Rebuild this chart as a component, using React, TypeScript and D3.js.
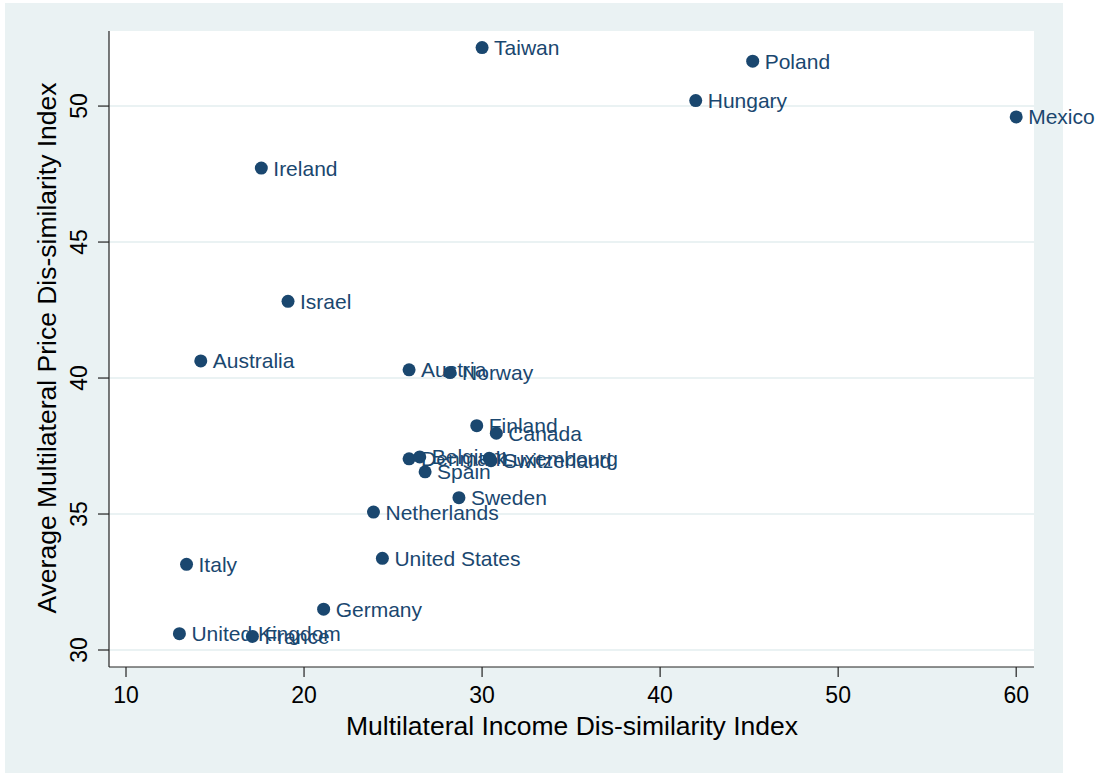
import React from "react";
import * as d3 from "d3";

// country labels and the two indices
const countries = [
  "Taiwan", "Poland", "Hungary", "Mexico", "Ireland", "Israel", "Australia",
  "Austria", "Norway", "Finland", "Canada", "Denmark", "Belgium", "Spain",
  "Luxembourg", "Switzerland", "Sweden", "Netherlands", "United States",
  "Italy", "Germany", "United Kingdom", "France",
];
const incomeIdx = [
  30.0, 45.2, 42.0, 60.0, 17.6, 19.1, 14.2,
  25.9, 28.2, 29.7, 30.8, 25.9, 26.5, 26.8,
  30.4, 30.5, 28.7, 23.9, 24.4,
  13.4, 21.1, 13.0, 17.1,
];
const priceIdx = [
  52.15, 51.65, 50.2, 49.6, 47.72, 42.82, 40.63,
  40.3, 40.2, 38.25, 37.97, 37.03, 37.1, 36.55,
  37.05, 36.96, 35.6, 35.07, 33.37,
  33.15, 31.5, 30.6, 30.5,
];
const xTicks = [10, 20, 30, 40, 50, 60];
const yTicks = [30, 35, 40, 45, 50];

const W = 1096;
const H = 773;
const plot = { left: 109, right: 1034, top: 31, bottom: 667 };
const navy = "#1a476f";
const bg = "#eaf2f3";
const font = "'Liberation Sans', Arial, sans-serif";

export default function App() {
  const x = d3.scaleLinear().domain([9.045, 61.0]).range([plot.left, plot.right]);
  const y = d3.scaleLinear().domain([29.375, 52.76]).range([plot.bottom, plot.top]);

  return (
    <svg width={W} height={H} style={{ position: "absolute", left: 0, top: 0 }} fontFamily={font}>
      <rect x={0} y={0} width={W} height={H} fill="#ffffff" />
      <rect x={5} y={3} width={1058} height={770} fill={bg} />
      <rect x={plot.left} y={plot.top} width={plot.right - plot.left} height={plot.bottom - plot.top} fill="#ffffff" />

      {/* gridlines */}
      {yTicks.map((t) => (
        <line key={"g" + t} x1={plot.left} x2={plot.right} y1={y(t)} y2={y(t)} stroke={bg} strokeWidth={2} />
      ))}

      {/* axes */}
      <line x1={plot.left} x2={plot.left} y1={plot.top} y2={plot.bottom} stroke="#222" strokeWidth={1.2} />
      <line x1={plot.left} x2={plot.right} y1={plot.bottom} y2={plot.bottom} stroke="#222" strokeWidth={1.2} />

      {xTicks.map((t) => (
        <g key={"x" + t}>
          <line x1={x(t)} x2={x(t)} y1={plot.bottom} y2={plot.bottom + 10} stroke="#222" strokeWidth={1.2} />
          <text x={x(t)} y={plot.bottom + 36} textAnchor="middle" fontSize={23} fill="#000">{t}</text>
        </g>
      ))}
      {yTicks.map((t) => (
        <g key={"y" + t}>
          <line x1={plot.left - 11} x2={plot.left} y1={y(t)} y2={y(t)} stroke="#222" strokeWidth={1.2} />
          <text transform={`translate(${87},${y(t)}) rotate(-90)`} textAnchor="middle" fontSize={23} fill="#000">{t}</text>
        </g>
      ))}

      <text x={572} y={735} textAnchor="middle" fontSize={26.5} fill="#000">Multilateral Income Dis-similarity Index</text>
      <text transform={`translate(56,${348}) rotate(-90)`} textAnchor="middle" fontSize={26.5} fill="#000">
        Average Multilateral Price Dis-similarity Index
      </text>

      {/* points and labels */}
      {countries.map((c, i) => (
        <g key={c}>
          <circle cx={x(incomeIdx[i])} cy={y(priceIdx[i])} r={6.5} fill={navy} />
          <text x={x(incomeIdx[i]) + 12} y={y(priceIdx[i]) + 7.5} fontSize={21} fill={navy}>{c}</text>
        </g>
      ))}
    </svg>
  );
}
